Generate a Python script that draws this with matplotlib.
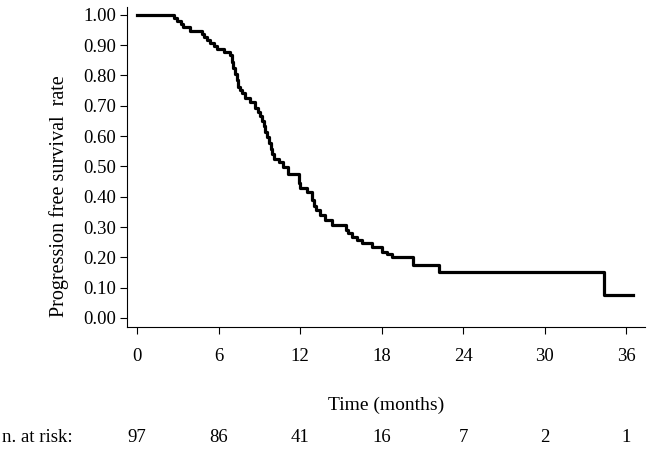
import matplotlib.pyplot as plt
from matplotlib.transforms import blended_transform_factory

plt.rcParams['font.family'] = ['Liberation Serif', 'DejaVu Serif']

# Kaplan-Meier steps (time in months, survival after the step)
times = [0, 2.7, 2.95, 3.2, 3.4, 3.9, 4.8, 4.95, 5.15, 5.4, 5.65, 5.9, 6.4, 6.85,
         7.0, 7.1, 7.2, 7.35, 7.45, 7.6, 7.75, 7.95, 8.3, 8.7, 8.9, 9.05, 9.2,
         9.35, 9.45, 9.6, 9.75, 9.85, 9.95, 10.05, 10.45, 10.75, 11.1, 11.9,
         12.0, 12.5, 12.85, 13.0, 13.15, 13.5, 13.85, 14.35, 15.4, 15.55, 15.8,
         16.2, 16.55, 17.3, 18.0, 18.4, 18.75, 20.3, 22.2, 34.4, 36.5]
surv = [1.000, 0.990, 0.979, 0.969, 0.959, 0.948, 0.938, 0.928, 0.918, 0.907,
        0.897, 0.887, 0.876, 0.866, 0.845, 0.825, 0.804, 0.784, 0.763, 0.753,
        0.742, 0.725, 0.711, 0.694, 0.680, 0.667, 0.650, 0.633, 0.615, 0.596,
        0.577, 0.558, 0.540, 0.525, 0.515, 0.499, 0.475, 0.445, 0.430, 0.415,
        0.390, 0.370, 0.356, 0.340, 0.323, 0.307, 0.291, 0.280, 0.268, 0.258,
        0.247, 0.235, 0.219, 0.210, 0.202, 0.175, 0.153, 0.077, 0.077]

xticks = [0, 6, 12, 18, 24, 30, 36]
at_risk = [97, 86, 41, 16, 7, 2, 1]
yticks = [i / 10 for i in range(11)]

fig = plt.figure(figsize=(6.5, 4.49), dpi=100)
ax = fig.add_axes([0.1954, 0.2717, 0.797, 0.7127])

ax.step(times, surv, where='post', color='black', lw=2.3)

ax.set_xlim(-0.74, 37.4)
ax.set_ylim(-0.030, 1.026)
ax.set_xticks(xticks)
ax.set_yticks(yticks)
ax.set_yticklabels(['%.2f' % v for v in yticks])

for s in ['top', 'right']:
    ax.spines[s].set_visible(False)
for s in ['left', 'bottom']:
    ax.spines[s].set_linewidth(0.8)

ax.tick_params(axis='both', direction='out', length=5, width=0.8, labelsize=13.5)
ax.tick_params(axis='x', pad=10)
ax.tick_params(axis='y', pad=3)

ax.set_ylabel('Progression free survival  rate', fontsize=14.5, labelpad=10)
ax.yaxis.label.set_y(0.41)
ax.set_xlabel('Time (months)', fontsize=14, labelpad=23)

# numbers at risk under each tick
trans = blended_transform_factory(ax.transData, fig.transFigure)
for t, n in zip(xticks, at_risk):
    ax.text(t, 1 - 437 / 449, str(n), transform=trans, ha='center', va='center',
            fontsize=13.5)
fig.text(2 / 650, 1 - 437 / 449, 'n. at risk:', ha='left', va='center', fontsize=13.5)

fig.savefig('out.png', dpi=100)
